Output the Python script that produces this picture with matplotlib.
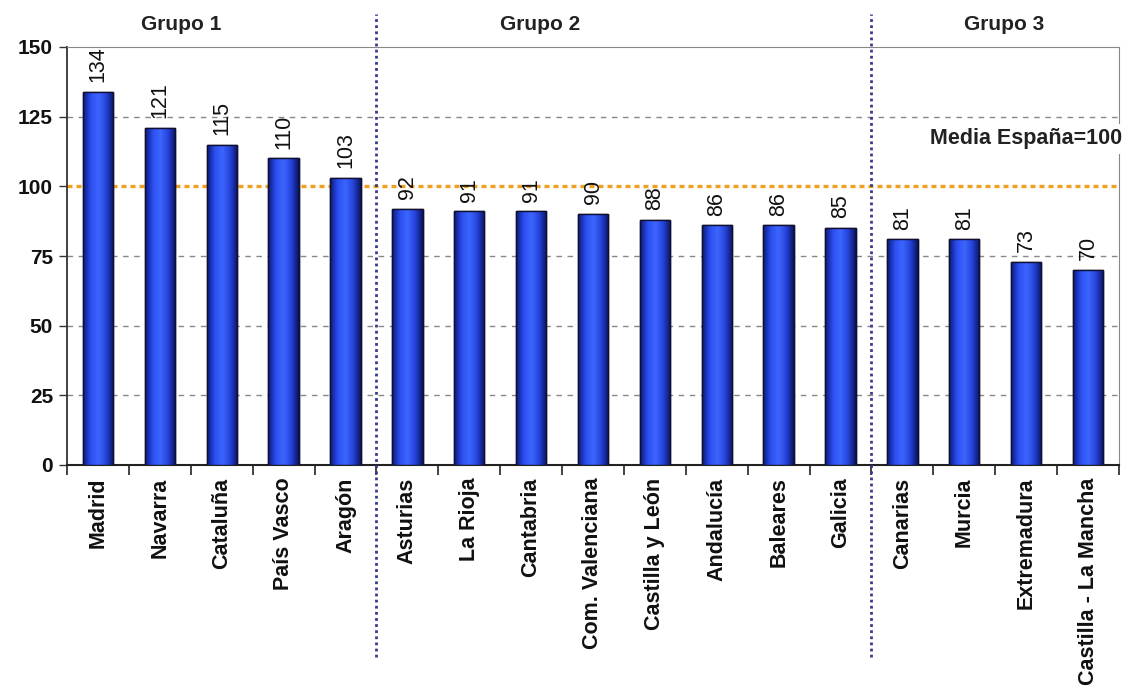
import numpy as np
import matplotlib.pyplot as plt
from matplotlib.colors import LinearSegmentedColormap

regiones = ['Madrid', 'Navarra', 'Cataluña', 'País Vasco', 'Aragón',
            'Asturias', 'La Rioja', 'Cantabria', 'Com. Valenciana',
            'Castilla y León', 'Andalucía', 'Baleares', 'Galicia',
            'Canarias', 'Murcia', 'Extremadura', 'Castilla - La Mancha']
valores = [134, 121, 115, 110, 103, 92, 91, 91, 90, 88, 86, 86, 85, 81, 81, 73, 70]
grupos = ['Grupo 1', 'Grupo 2', 'Grupo 3']
tam_grupos = [5, 8, 4]
media = 100
yticks = [0, 25, 50, 75, 100, 125, 150]

plt.rcParams['font.family'] = ['Liberation Sans', 'DejaVu Sans']

fig = plt.figure(figsize=(11.37, 6.93), dpi=100)
ax = fig.add_axes([67/1137, 1 - 465/693, (1119-67)/1137, (465-47)/693])

x = np.arange(len(regiones))
bars = ax.bar(x, valores, width=0.49, color='#2848e8', edgecolor='#101030',
              linewidth=1.0, zorder=3)

# sombreado tipo cilindro en cada barra
cmap = LinearSegmentedColormap.from_list('cil', ['#0a1a7a', '#2c4ef0', '#3c66ff', '#2644dc', '#0a1460'])
grad = np.linspace(0, 1, 64).reshape(1, -1)
for b in bars:
    x0, w, h = b.get_x(), b.get_width(), b.get_height()
    im = ax.imshow(grad, cmap=cmap, aspect='auto', extent=(x0, x0 + w, 0, h), zorder=3.5)
    im.set_clip_path(b)
    ax.add_patch(plt.Rectangle((x0, 0), w, h, fill=False, edgecolor='#101030', lw=1.0, zorder=4))

for xi, v in zip(x, valores):
    ax.text(xi, v + 3.5, str(v), rotation=90, ha='center', va='bottom', fontsize=15.5,
            color='#111111', zorder=5)

ax.set_xlim(-0.5, len(regiones) - 0.5)
ax.set_ylim(0, 150)
ax.set_yticks(yticks)
ax.set_yticklabels([str(t) for t in yticks], fontsize=15, fontweight='bold', color='#111111')
ax.set_xticks(x)
ax.set_xticklabels(regiones, rotation=90, fontsize=15.5, fontweight='bold', color='#111111')
ax.set_xticks(np.arange(-0.5, len(regiones)), minor=True)
ax.tick_params(axis='x', which='major', length=0, pad=9)
ax.tick_params(axis='x', which='minor', length=7, width=1.3, color='#333333', direction='out')
ax.tick_params(axis='y', length=6, width=1.0, color='#333333', direction='out', pad=4)

for t in [25, 50, 75, 125]:
    ax.axhline(t, color='#888888', ls=(0, (4, 4)), lw=1.0, zorder=1)
ax.axhline(media, color='#f0a020', ls=(0, (1.5, 1.2)), lw=2.4, zorder=2)

for s in ['top', 'right']:
    ax.spines[s].set_color('#888888')
ax.spines['left'].set_color('#333333')
ax.spines['left'].set_linewidth(1.3)
ax.spines['bottom'].set_color('#222222')
ax.spines['bottom'].set_linewidth(1.5)

# separadores y títulos de grupo
pos_titulos = [1.34, 7.14, 14.64]
inicio = 0
for i, (g, n) in enumerate(zip(grupos, tam_grupos)):
    ax.text(pos_titulos[i], 1.053, g, transform=ax.get_xaxis_transform(), ha='center', va='center',
            fontsize=15, fontweight='bold', color='#222222')
    if i < len(grupos) - 1:
        sep = inicio + n - 0.5
        ax.plot([sep, sep], [-0.46, 1.08], transform=ax.get_xaxis_transform(),
                color='#3a3a8a', ls=(0, (1, 1.2)), lw=2.0, clip_on=False, zorder=6)
    inicio += n

ax.text(len(regiones) - 0.45, 117, 'Media España=100', ha='right', va='center',
        fontsize=15.5, fontweight='bold', color='#222222', zorder=7, clip_on=False,
        bbox=dict(facecolor='white', edgecolor='none', pad=3))

fig.savefig('out.png', dpi=100)
